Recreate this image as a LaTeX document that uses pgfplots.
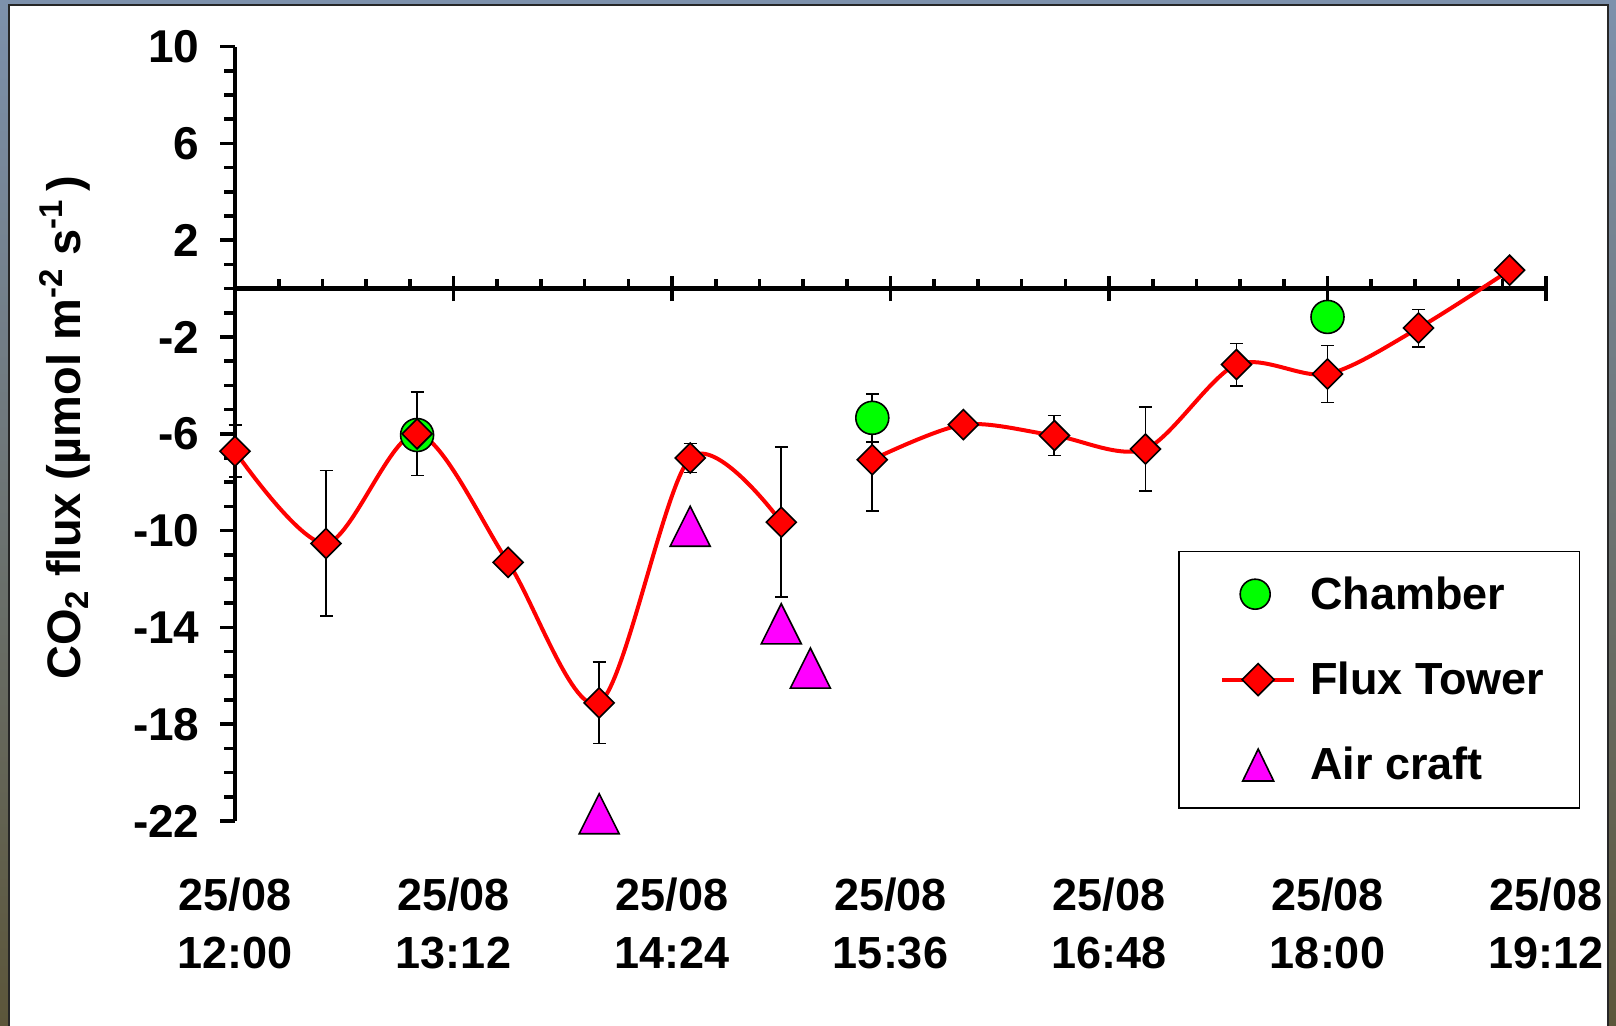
\documentclass[border=0pt]{standalone}
\usepackage{pgfplots}
\pgfplotsset{compat=1.18}
\usepackage{fontspec}
\setmainfont{Liberation Sans}
\definecolor{cgreen}{RGB}{0,255,0}
\definecolor{cred}{RGB}{255,0,0}
\definecolor{cmag}{RGB}{255,0,255}
\pgfplotsset{
  chamberleg/.style={legend image code/.code={
    \path[draw=none] (-4pt,0pt) -- (36pt,0pt);
    \draw[##1, mark size=7.5pt] plot coordinates {(16.5pt,0pt)};
  }},
  towerleg/.style={legend image code/.code={
    \path[draw=none] (-4pt,0pt) -- (36pt,0pt);
    \draw[cred, line width=2pt] (0pt,0pt) -- (36pt,0pt);
    \draw[##1, mark size=5.66pt] plot coordinates {(18pt,0pt)};
  }},
  aircraftleg/.style={legend image code/.code={
    \path[draw=none] (-4pt,0pt) -- (36pt,0pt);
    \draw[##1, mark size=8.95pt, mark options={yshift=-2.66pt, yscale=1.19, fill=cmag, draw=black, line width=0.8pt}] plot coordinates {(18pt,0pt)};
  }},
}
\begin{document}
\begin{tikzpicture}
\useasboundingbox (0,0) rectangle (808pt,-513pt);
\shade[top color={rgb,255:red,125;green,145;blue,172}, bottom color={rgb,255:red,92;green,86;blue,58}] (0,0) rectangle (808pt,-513pt);
\filldraw[fill=white, draw=black!85, line width=1.2pt] (4.5pt,-2.5pt) rectangle (804pt,-520pt);
% x axis at y=0
\begin{axis}[
  at={(117.5pt,-410.5pt)}, anchor=south west,
  scale only axis, width=655.5pt, height=387.2pt,
  xmin=0, xmax=7.2, ymin=-22, ymax=10,
  axis x line=middle, axis y line=none,
  axis line style={-, line width=2.2pt, black},
  xtick={0,1.2,2.4,3.6,4.8,6,7.2},
  xticklabels={{25/08\\12:00},{25/08\\13:12},{25/08\\14:24},{25/08\\15:36},{25/08\\16:48},{25/08\\18:00},{25/08\\19:12}},
  minor x tick num=4,
  tick align=center,
  major tick length=12.5pt, minor tick length=5pt,
  major tick style={line width=1.8pt, black},
  minor tick style={line width=1.8pt, black, yshift=2.5pt},
  xticklabel style={align=center, font=\fontsize{22.5}{29}\selectfont\bfseries, yshift=-285pt},
  hide obscured x ticks=false,
  ytick=\empty,
]
\end{axis}
% data and y axis
\begin{axis}[
  at={(117.5pt,-410.5pt)}, anchor=south west,
  scale only axis, width=655.5pt, height=387.2pt,
  xmin=0, xmax=7.2, ymin=-22, ymax=10,
  axis y line=left, axis x line=none,
  axis line style={-, line width=2.2pt, black},
  xtick=\empty,
  ytick={-22,-18,-14,-10,-6,-2,2,6,10},
  minor y tick num=3,
  tick align=outside,
  major tick length=7.5pt, minor tick length=5.5pt,
  tick style={line width=1.8pt, black},
  yticklabel style={font=\fontsize{23}{27}\selectfont\bfseries, xshift=-6.7pt},
  /pgf/number format/assume math mode=true,
  ylabel={CO\textsubscript{2} flux (µmol m\textsuperscript{-2} s\textsuperscript{-1}\,)},
  ylabel style={at={(axis description cs:-0.1175,0.508)}, anchor=base, font=\fontsize{23.5}{28}\selectfont\bfseries},
  clip=false,
  legend cell align=left,
  legend style={at={(axis cs:5.181,-10.826)}, anchor=north west, draw=black, line width=0.8pt, fill=white,
    inner xsep=17.5pt, inner ysep=12.5pt, row sep=24.9pt, column sep=7pt,
    nodes={inner sep=0pt}, font=\fontsize{22.5}{27}\selectfont\bfseries},
]
% Flux tower line, segment 1, with error bars
\addplot[cred, line width=2pt, smooth, forget plot,
  error bars/.cd, y dir=both, y explicit,
  error bar style={black, line width=0.9pt},
  error mark options={rotate=90, black, mark size=3.25pt, line width=0.9pt}]
coordinates {
(0,-6.72) +- (0,1.07)
(0.5,-10.53) +- (0,3.01)
(1.0,-6.0) +- (0,1.72)
(1.5,-11.31) +- (0,0)
(2.0,-17.12) +- (0,1.68)
(2.5,-7.0) +- (0,0.6)
(3.0,-9.65) +- (0,3.1)
};
% Flux tower line, segment 2, with error bars
\addplot[cred, line width=2pt, smooth, forget plot,
  error bars/.cd, y dir=both, y explicit,
  error bar style={black, line width=0.9pt},
  error mark options={rotate=90, black, mark size=3.25pt, line width=0.9pt}]
coordinates {
(3.5,-7.07) +- (0,2.13)
(4.0,-5.62) +- (0,0)
(4.5,-6.07) +- (0,0.83)
(5.0,-6.63) +- (0,1.74)
(5.5,-3.14) +- (0,0.87)
(6.0,-3.53) +- (0,1.18)
(6.5,-1.63) +- (0,0.77)
(7.0,0.76) +- (0,0)
};
% Chamber error bar
\addplot[draw=none, forget plot,
  error bars/.cd, y dir=both, y explicit,
  error bar style={draw=black, line width=0.9pt},
  error mark options={rotate=90, draw=black, mark size=3.25pt, line width=0.9pt}]
coordinates {(3.5,-5.34) +- (0,0.99)};
% Chamber
\addplot[only marks, mark=*, mark size=8.25pt,
  mark options={fill=cgreen, draw=black, line width=0.8pt}, chamberleg]
coordinates {(1.0,-6.05) (3.5,-5.34) (6.0,-1.17)};
\addlegendentry{Chamber}
% Flux tower markers
\addplot[only marks, mark=square*, mark size=5.3pt,
  mark options={rotate=45, fill=cred, draw=black, line width=0.8pt}, towerleg]
coordinates {
(0,-6.72) (0.5,-10.53) (1.0,-6.0) (1.5,-11.31) (2.0,-17.12) (2.5,-7.0) (3.0,-9.65)
(3.5,-7.07) (4.0,-5.62) (4.5,-6.07) (5.0,-6.63) (5.5,-3.14) (6.0,-3.53) (6.5,-1.63) (7.0,0.76)
};
\addlegendentry{Flux Tower}
% Aircraft
\addplot[only marks, mark=triangle*, mark size=11.55pt,
  mark options={yshift=-3.34pt, yscale=1.156, fill=cmag, draw=black, line width=0.8pt}, aircraftleg]
coordinates {(2.0,-21.7) (2.5,-9.82) (3.0,-13.85) (3.16,-15.68)};
\addlegendentry{Air craft}
\end{axis}
\end{tikzpicture}
\end{document}
